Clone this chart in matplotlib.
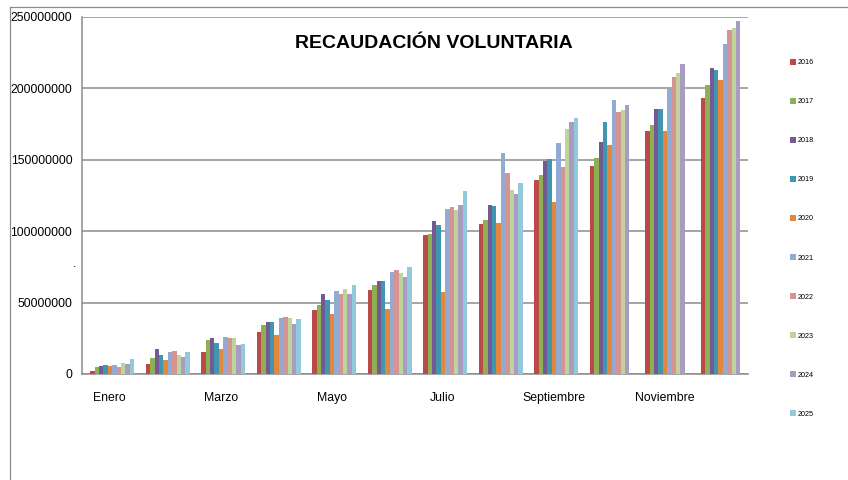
import numpy as np
import matplotlib
matplotlib.use("Agg")
import matplotlib.pyplot as plt
from matplotlib.lines import Line2D
from matplotlib.ticker import FuncFormatter

plt.rcParams['font.family'] = ['Liberation Sans', 'DejaVu Sans']

months = ["Enero", "Febrero", "Marzo", "Abril", "Mayo", "Junio", "Julio",
          "Agosto", "Septiembre", "Octubre", "Noviembre", "Diciembre"]
years = ["2016", "2017", "2018", "2019", "2020", "2021", "2022", "2023", "2024", "2025"]

nan = np.nan
v2016 = [2.3, 7.0, 15.4, 29.4, 44.8, 58.8, 97.2, 105.0, 135.6, 145.7, 170.4, 193.3]
v2017 = [4.7, 11.2, 24.0, 34.1, 48.3, 62.3, 97.9, 107.8, 139.2, 151.5, 174.4, 202.2]
v2018 = [5.8, 17.5, 25.2, 36.4, 56.0, 65.1, 107.4, 118.0, 149.4, 162.3, 185.6, 214.1]
v2019 = [6.3, 13.3, 21.9, 36.4, 51.8, 65.1, 104.4, 117.5, 150.8, 176.3, 185.6, 212.9]
v2020 = [5.8, 9.8, 17.5, 27.1, 41.8, 45.3, 57.2, 105.5, 120.4, 160.4, 170.4, 205.9]
v2021 = [6.3, 15.4, 25.9, 39.4, 58.3, 71.4, 115.6, 155.0, 161.6, 192.1, 199.6, 231.1]
v2022 = [4.7, 16.3, 25.2, 39.9, 56.0, 73.0, 116.8, 141.0, 145.0, 183.3, 208.0, 241.1]
v2023 = [7.7, 13.3, 25.2, 39.4, 59.5, 70.7, 114.5, 129.2, 171.6, 185.1, 210.6, 242.3]
v2024 = [7.0, 11.7, 20.1, 35.2, 56.0, 67.7, 118.0, 126.4, 176.3, 188.2, 216.9, 247.4]
v2025 = [10.5, 15.4, 21.2, 38.7, 62.3, 74.9, 128.3, 133.9, 179.3, nan, nan, nan]
series = [v2016, v2017, v2018, v2019, v2020, v2021, v2022, v2023, v2024, v2025]

colors = ["#B94A47", "#8FB052", "#735A94", "#4096AE", "#E3873D",
          "#92AAD4", "#D59492", "#BFD49A", "#AA9BC2", "#93CADB"]

yticks = [0, 50000000, 100000000, 150000000, 200000000, 250000000]
xlabels_shown = ["Enero", "", "Marzo", "", "Mayo", "", "Julio", "",
                 "Septiembre", "", "Noviembre", ""]

W, H = 848, 480
fig = plt.figure(figsize=(W / 100, H / 100), dpi=100)
ax = fig.add_axes([82 / W, 1 - 374 / H, (748 - 82) / W, (374 - 17) / H])

x = np.arange(len(months))
bw = 1 / 12.6
offset = 0.045
for i, (vals, c, yr) in enumerate(zip(series, colors, years)):
    vals = np.array(vals, dtype=float) * 1e6
    ax.bar(x + (i - 4.5) * bw + offset, vals, width=bw, color=c, label=yr,
           edgecolor='none', zorder=3)

ax.set_xlim(-0.5, len(months) - 0.5)
ax.set_ylim(0, 250000000)
ax.set_yticks(yticks)
ax.yaxis.set_major_formatter(FuncFormatter(lambda v, p: f"{int(v)}"))
ax.set_xticks(x)
ax.set_xticklabels(xlabels_shown)
ax.tick_params(axis='both', length=0, labelsize=8.8, colors='black')
ax.tick_params(axis='y', pad=7)
ax.tick_params(axis='x', pad=13)
ax.grid(axis='y', color='#8C8C8C', linewidth=1.1, zorder=0)
ax.grid(axis='x', visible=False)
for s in ['top', 'right']:
    ax.spines[s].set_visible(False)
for s in ['left', 'bottom']:
    ax.spines[s].set_color('#8C8C8C')
    ax.spines[s].set_linewidth(1.1)

fig.text(434 / W, 1 - 44 / H, "RECAUDACIÓN VOLUNTARIA", ha='center', va='center',
         fontsize=14, fontweight='bold')

fig.text(75 / W, 1 - 264 / H, ".", ha='center', va='center', fontsize=9)

fig.legend(loc='upper left', bbox_to_anchor=(790 / W, 1 - 59 / H), frameon=False,
           fontsize=5.2, handlelength=0.8, handleheight=0.8, handletextpad=0.25,
           labelspacing=4.4, borderpad=0, borderaxespad=0)

fig.add_artist(Line2D([9.5 / W, 9.5 / W], [0, 1 - 7 / H], transform=fig.transFigure,
                      color='#8C8C8C', linewidth=0.9))
fig.add_artist(Line2D([9.5 / W, 1], [1 - 7 / H, 1 - 7 / H], transform=fig.transFigure,
                      color='#8C8C8C', linewidth=0.9))

fig.savefig("out.png", dpi=100)
